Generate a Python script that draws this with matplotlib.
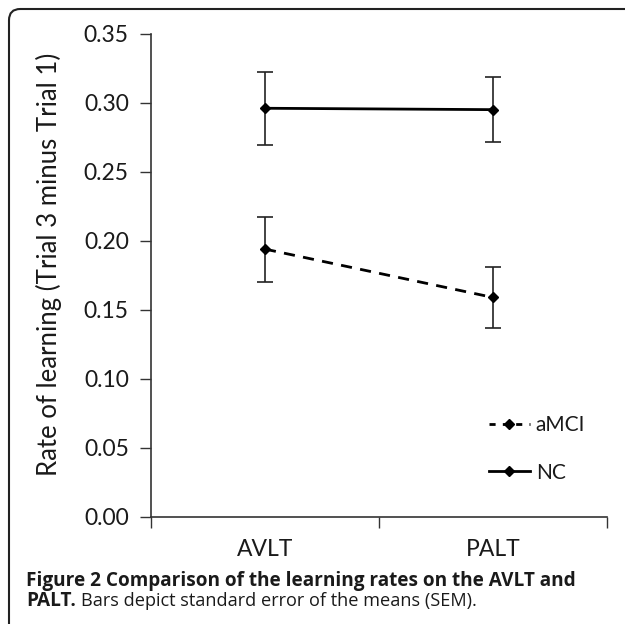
import matplotlib
matplotlib.use('Agg')
import matplotlib.pyplot as plt
from matplotlib.patches import FancyBboxPatch
from matplotlib.lines import Line2D

tests = ['AVLT', 'PALT']
nc_mean = [0.296, 0.295]
nc_sem = [0.0265, 0.0235]
amci_mean = [0.194, 0.159]
amci_sem = [0.0235, 0.022]
yticks = [0.00, 0.05, 0.10, 0.15, 0.20, 0.25, 0.30, 0.35]

plt.rcParams['font.family'] = ['Lato', 'DejaVu Sans']

fig = plt.figure(figsize=(6.25, 6.24), dpi=100)
ax = fig.add_axes([0.2416, 0.1715, 0.7294, 0.7745])

xpos = [0.5, 1.5]
ax.errorbar(xpos, nc_mean, yerr=nc_sem, color='black', lw=2, marker='D', ms=5,
            ecolor='#222222', elinewidth=1.2, capsize=5.5, capthick=1.2, label='NC')
ax.errorbar(xpos, amci_mean, yerr=amci_sem, color='black', lw=2, ls=(0, (4, 3)),
            marker='D', ms=5, ecolor='#222222', elinewidth=1.2, capsize=5.5,
            capthick=1.2, label='aMCI')

ax.set_xlim(0, 2)
ax.set_ylim(0, 0.35)
ax.set_yticks(yticks)
ax.set_yticklabels(['%.2f' % v for v in yticks])
ax.set_xticks([0, 1, 2])
ax.set_xticklabels([])
ax.set_xticks(xpos, minor=True)
ax.set_xticklabels(tests, minor=True)
ax.tick_params(axis='both', which='major', length=8, width=1, color='#333333',
               direction='out', labelsize=16.5)
ax.tick_params(axis='x', which='minor', length=0, pad=16, labelsize=16.5,
               labelcolor='#1a1a1a')
ax.tick_params(axis='y', labelcolor='#1a1a1a', pad=8)
for s in ['top', 'right']:
    ax.spines[s].set_visible(False)
for s in ['left', 'bottom']:
    ax.spines[s].set_color('#333333')
    ax.spines[s].set_linewidth(1.2)

fig.text(49 / 625, 1 - 264 / 624, 'Rate of learning (Trial 3 minus Trial 1)',
         rotation=90, ha='center', va='center', fontsize=18.5, color='#1a1a1a')

handles = [Line2D([0], [0], color='black', lw=2, ls=(0, (2.2, 2.6)), marker='D', ms=5),
           Line2D([0], [0], color='black', lw=2, marker='D', ms=5)]
ax.legend(handles, ['aMCI', 'NC'], loc='center left',
          bbox_to_anchor=(489 / 625, 1 - 449 / 624), bbox_transform=fig.transFigure,
          borderpad=0, borderaxespad=0, frameon=False, fontsize=15,
          handlelength=1.95, handletextpad=0.3, labelspacing=1.3,
          labelcolor='#1a1a1a')

# rounded figure frame, open at right and bottom
frame = FancyBboxPatch((9 / 625, -0.1), 1.2, 1 - 9 / 624 + 0.1,
                       boxstyle='round,pad=0,rounding_size=0.018',
                       transform=fig.transFigure, fill=False, ec='#222222', lw=1.5)
fig.add_artist(frame)

fs = 13.65
fig.text(26 / 625, 1 - 586 / 624, 'Figure 2 Comparison of the learning rates on the AVLT and',
         fontsize=fs, fontweight='bold', family='Open Sans', color='#1a1a1a')
t2 = fig.text(26 / 625, 1 - 606 / 624, 'PALT.', fontsize=fs, fontweight='bold',
              family='Open Sans', color='#1a1a1a')
fig.canvas.draw()
bb = t2.get_window_extent()
fig.text(bb.x1 / fig.bbox.width + 5 / 625, 1 - 606 / 624,
         'Bars depict standard error of the means (SEM).',
         fontsize=13.1, family='Open Sans', color='#1a1a1a')

plt.savefig('out.png', dpi=100)
